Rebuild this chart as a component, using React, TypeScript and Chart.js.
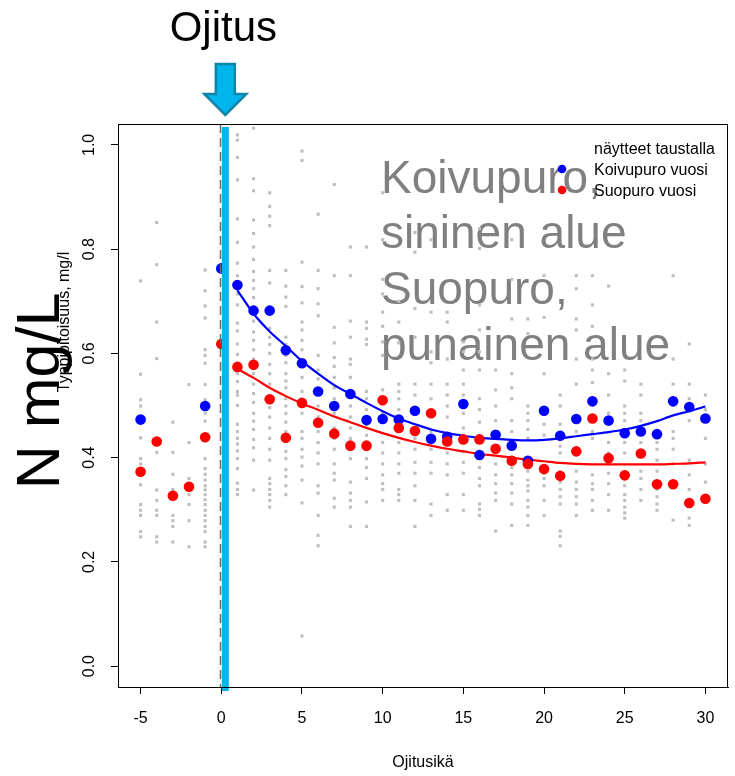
import React, { useEffect, useRef } from 'react';
import { Chart, registerables } from 'chart.js';

Chart.register(...registerables);

const FONT = '"Liberation Sans", Arial, Helvetica, sans-serif';

// Axis ticks
const xTicks = [-5, 0, 5, 10, 15, 20, 25, 30];
const yTicks = [0, 0.2, 0.4, 0.6, 0.8, 1.0];

// Koivupuro yearly means (blue)
const blueX = [-5, -1, 0, 1, 2, 3, 4, 5, 6, 7, 8, 9, 10, 11, 12, 13, 14, 15, 16, 17, 18, 19, 20, 21, 22, 23, 24, 25, 26, 27, 28, 29, 30];
const blueY = [0.473, 0.499, 0.763, 0.731, 0.682, 0.682, 0.606, 0.581, 0.527, 0.499, 0.522, 0.472, 0.474, 0.473, 0.49, 0.436, 0.44, 0.503, 0.405, 0.444, 0.423, 0.394, 0.49, 0.442, 0.474, 0.508, 0.471, 0.447, 0.45, 0.445, 0.508, 0.497, 0.475];

// Suopuro yearly means (red)
const redX = [-5, -4, -3, -2, -1, 0, 1, 2, 3, 4, 5, 6, 7, 8, 9, 10, 11, 12, 13, 14, 15, 16, 17, 18, 19, 20, 21, 22, 23, 24, 25, 26, 27, 28, 29, 30];
const redY = [0.373, 0.431, 0.327, 0.344, 0.439, 0.618, 0.574, 0.578, 0.512, 0.438, 0.505, 0.467, 0.446, 0.423, 0.423, 0.51, 0.457, 0.451, 0.485, 0.431, 0.435, 0.435, 0.417, 0.394, 0.388, 0.378, 0.365, 0.412, 0.475, 0.399, 0.366, 0.408, 0.349, 0.349, 0.313, 0.321];

// Smoothed curves
const smoothX = [1, 2, 3, 4, 5, 6, 7, 8, 9, 10, 11, 12, 13, 14, 15, 16, 17, 18, 19, 20, 21, 22, 23, 24, 25, 26, 27, 28, 29, 30];
const blueSmooth = [0.721, 0.676, 0.642, 0.614, 0.585, 0.561, 0.539, 0.522, 0.505, 0.489, 0.475, 0.464, 0.454, 0.447, 0.442, 0.438, 0.436, 0.434, 0.433, 0.434, 0.437, 0.441, 0.445, 0.449, 0.454, 0.461, 0.47, 0.481, 0.489, 0.498];
const redSmooth = [0.57, 0.553, 0.534, 0.518, 0.504, 0.492, 0.479, 0.468, 0.457, 0.447, 0.438, 0.43, 0.423, 0.417, 0.412, 0.407, 0.404, 0.4, 0.396, 0.393, 0.39, 0.388, 0.387, 0.387, 0.387, 0.387, 0.387, 0.388, 0.389, 0.391];

// Background samples ("näytteet taustalla"), one column per drainage age
const grayColumns: [number, number[]][] = [
  [-5, [0.739, 0.56, 0.511, 0.499, 0.438, 0.398, 0.388, 0.348, 0.31, 0.299, 0.289, 0.258, 0.248]],
  [-4, [0.851, 0.77, 0.66, 0.59, 0.429, 0.41, 0.338, 0.318, 0.299, 0.289, 0.248, 0.238]],
  [-3, [0.468, 0.41, 0.368, 0.339, 0.329, 0.289, 0.279, 0.268, 0.238]],
  [-2, [0.54, 0.429, 0.36, 0.35, 0.329, 0.31, 0.279, 0.229]],
  [-1, [0.76, 0.72, 0.691, 0.668, 0.607, 0.596, 0.581, 0.54, 0.511, 0.485, 0.47, 0.398, 0.379, 0.368, 0.357, 0.346, 0.338, 0.329, 0.319, 0.31, 0.299, 0.289, 0.279, 0.268, 0.258, 0.238, 0.229]],
  [1, [1.019, 1.009, 0.976, 0.933, 0.858, 0.813, 0.773, 0.749, 0.714, 0.693, 0.658, 0.643, 0.618, 0.598, 0.574, 0.561, 0.546, 0.527, 0.52, 0.5, 0.464, 0.45, 0.437, 0.426, 0.413, 0.398, 0.379, 0.351, 0.339, 0.329]],
  [2, [1.032, 0.935, 0.912, 0.856, 0.83, 0.804, 0.78, 0.757, 0.74, 0.724, 0.707, 0.679, 0.662, 0.641, 0.625, 0.607, 0.589, 0.561, 0.541, 0.523, 0.506, 0.485, 0.47, 0.454, 0.435, 0.419, 0.395, 0.338]],
  [3, [0.908, 0.882, 0.863, 0.845, 0.759, 0.735, 0.679, 0.648, 0.631, 0.617, 0.6, 0.579, 0.561, 0.541, 0.513, 0.496, 0.478, 0.457, 0.437, 0.416, 0.395, 0.36, 0.35, 0.339, 0.329, 0.318, 0.305]],
  [4, [0.759, 0.729, 0.708, 0.69, 0.631, 0.617, 0.596, 0.582, 0.561, 0.547, 0.534, 0.513, 0.499, 0.485, 0.468, 0.45, 0.433, 0.412, 0.398, 0.377, 0.364, 0.346, 0.329]],
  [5, [0.988, 0.97, 0.775, 0.728, 0.697, 0.66, 0.645, 0.625, 0.607, 0.554, 0.527, 0.485, 0.45, 0.437, 0.416, 0.401, 0.384, 0.357, 0.313, 0.058]],
  [6, [0.867, 0.759, 0.724, 0.695, 0.672, 0.596, 0.568, 0.551, 0.499, 0.478, 0.45, 0.429, 0.409, 0.388, 0.346, 0.332, 0.289, 0.251, 0.231]],
  [7, [0.924, 0.749, 0.65, 0.62, 0.592, 0.575, 0.554, 0.534, 0.513, 0.485, 0.457, 0.437, 0.416, 0.388, 0.37, 0.357, 0.322, 0.305]],
  [8, [0.804, 0.749, 0.662, 0.631, 0.589, 0.579, 0.554, 0.527, 0.499, 0.478, 0.457, 0.437, 0.398, 0.353, 0.332, 0.318, 0.305, 0.268]],
  [9, [0.804, 0.66, 0.648, 0.627, 0.617, 0.527, 0.513, 0.492, 0.464, 0.443, 0.416, 0.398, 0.381, 0.36, 0.315, 0.268]],
  [10, [0.908, 0.818, 0.742, 0.714, 0.679, 0.652, 0.622, 0.596, 0.53, 0.513, 0.485, 0.429, 0.409, 0.388, 0.367, 0.35, 0.339, 0.318]],
  [11, [0.7, 0.66, 0.62, 0.541, 0.527, 0.513, 0.492, 0.45, 0.429, 0.409, 0.388, 0.37, 0.339, 0.329, 0.318]],
  [12, [0.832, 0.794, 0.686, 0.631, 0.541, 0.52, 0.492, 0.437, 0.416, 0.391, 0.37, 0.346, 0.318, 0.268]],
  [13, [0.818, 0.679, 0.603, 0.582, 0.541, 0.513, 0.45, 0.416, 0.391, 0.37, 0.311, 0.289]],
  [14, [0.679, 0.66, 0.589, 0.541, 0.52, 0.499, 0.478, 0.429, 0.409, 0.388, 0.367, 0.329, 0.299]],
  [15, [0.622, 0.603, 0.568, 0.541, 0.52, 0.485, 0.457, 0.412, 0.391, 0.37, 0.329, 0.299]],
  [16, [0.839, 0.801, 0.693, 0.645, 0.603, 0.568, 0.513, 0.492, 0.468, 0.437, 0.381, 0.36, 0.346, 0.311, 0.301, 0.289]],
  [17, [0.568, 0.53, 0.499, 0.471, 0.45, 0.437, 0.388, 0.367, 0.35, 0.332, 0.318, 0.259]],
  [18, [0.818, 0.742, 0.666, 0.561, 0.534, 0.513, 0.471, 0.45, 0.381, 0.367, 0.35, 0.332, 0.311, 0.27]],
  [19, [0.666, 0.638, 0.499, 0.485, 0.471, 0.454, 0.437, 0.374, 0.357, 0.346, 0.336, 0.318, 0.305, 0.289, 0.27]],
  [20, [0.749, 0.669, 0.561, 0.464, 0.443, 0.36, 0.346, 0.318, 0.289]],
  [21, [0.52, 0.499, 0.464, 0.437, 0.422, 0.409, 0.353, 0.339, 0.325, 0.311, 0.259, 0.249, 0.231]],
  [22, [0.749, 0.724, 0.666, 0.645, 0.589, 0.541, 0.45, 0.374, 0.353, 0.339, 0.325, 0.311, 0.289]],
  [23, [0.749, 0.693, 0.652, 0.589, 0.568, 0.544, 0.45, 0.437, 0.367, 0.35, 0.339, 0.318, 0.299]],
  [24, [0.729, 0.561, 0.52, 0.485, 0.429, 0.409, 0.388, 0.37, 0.35, 0.329, 0.299]],
  [25, [0.568, 0.547, 0.499, 0.485, 0.471, 0.429, 0.409, 0.346, 0.329, 0.318, 0.305, 0.294, 0.284]],
  [26, [0.541, 0.52, 0.485, 0.471, 0.429, 0.374, 0.36, 0.339, 0.318]],
  [27, [0.429, 0.416, 0.395, 0.374, 0.339, 0.325, 0.311, 0.299]],
  [28, [0.749, 0.589, 0.541, 0.45, 0.437, 0.416, 0.388, 0.28]],
  [29, [0.618, 0.541, 0.513, 0.471, 0.395, 0.367, 0.339, 0.318, 0.284, 0.27]],
  [30, [0.52, 0.492, 0.437, 0.388, 0.353, 0.325]],
];

const legendLabels = ['näytteet taustalla', 'Koivupuro vuosi', 'Suopuro vuosi'];
const noteLines = ['Koivupuro,', 'sininen alue', 'Suopuro,', 'punainen alue'];
const drainLabel = 'Ojitus';
const xTitle = 'Ojitusikä';
const yTitle = 'Typpipitoisuus, mg/l';
const bigYLabel = 'N mg/L';
const drainX = 0;
const markerX = 0.25;

const annotations = {
  id: 'annotations',
  beforeDatasetsDraw(chart: any) {
    const { ctx, chartArea: a } = chart;
    ctx.save();
    ctx.fillStyle = '#808080';
    ctx.font = `46px ${FONT}`;
    ctx.textAlign = 'left';
    ctx.textBaseline = 'alphabetic';
    const base = [193, 248, 304, 360];
    noteLines.forEach((t, i) => ctx.fillText(t, a.left + 263, base[i]));
    ctx.restore();
  },
  afterDatasetsDraw(chart: any) {
    const { ctx, chartArea: a, scales } = chart;
    const x = scales.x;
    ctx.save();
    // dashed vertical reference line
    const px0 = Math.round(x.getPixelForValue(drainX)) - 0.5;
    ctx.strokeStyle = '#6a6a6a';
    ctx.lineWidth = 1.5;
    ctx.setLineDash([9, 5]);
    ctx.beginPath();
    ctx.moveTo(px0, a.top);
    ctx.lineTo(px0, a.bottom);
    ctx.stroke();
    ctx.setLineDash([]);
    // thick light-blue marker line
    const pm = x.getPixelForValue(markerX);
    ctx.strokeStyle = '#00B4EC';
    ctx.lineWidth = 7;
    ctx.beginPath();
    ctx.moveTo(pm, a.top + 3);
    ctx.lineTo(pm, a.bottom + 4);
    ctx.stroke();
    ctx.restore();
  },
  afterDraw(chart: any) {
    const { ctx, chartArea: a, scales } = chart;
    const x = scales.x;
    ctx.save();
    // box
    ctx.strokeStyle = '#000';
    ctx.lineWidth = 1;
    ctx.strokeRect(Math.round(a.left) + 0.5, Math.round(a.top) + 0.5, Math.round(a.width) - 1, Math.round(a.height));

    const pm = x.getPixelForValue(markerX);
    // arrow
    ctx.beginPath();
    ctx.moveTo(pm - 9.5, 64);
    ctx.lineTo(pm + 9.5, 64);
    ctx.lineTo(pm + 9.5, 94);
    ctx.lineTo(pm + 21, 94);
    ctx.lineTo(pm, 115);
    ctx.lineTo(pm - 21, 94);
    ctx.lineTo(pm - 9.5, 94);
    ctx.closePath();
    ctx.fillStyle = '#00B4EC';
    ctx.fill();
    ctx.strokeStyle = '#1284A8';
    ctx.lineWidth = 2.5;
    ctx.lineJoin = 'miter';
    ctx.stroke();

    // "Ojitus"
    ctx.fillStyle = '#000';
    ctx.font = `42px ${FONT}`;
    ctx.textAlign = 'center';
    ctx.textBaseline = 'alphabetic';
    ctx.fillText(drainLabel, pm - 2, 41);

    // legend
    ctx.font = `16px ${FONT}`;
    ctx.textAlign = 'left';
    ctx.textBaseline = 'middle';
    const ly = [150, 171, 192];
    legendLabels.forEach((t, i) => ctx.fillText(t, 594, ly[i]));
    ctx.fillStyle = '#0000FF';
    ctx.beginPath();
    ctx.arc(562, 169, 4.3, 0, Math.PI * 2);
    ctx.fill();
    ctx.fillStyle = '#FF0000';
    ctx.beginPath();
    ctx.arc(562, 190, 4.3, 0, Math.PI * 2);
    ctx.fill();

    // axis titles
    ctx.fillStyle = '#000';
    ctx.font = `16px ${FONT}`;
    ctx.textAlign = 'center';
    ctx.textBaseline = 'middle';
    ctx.fillText(xTitle, (a.left + a.right) / 2, 763);

    ctx.save();
    ctx.translate(69, 322);
    ctx.rotate(-Math.PI / 2);
    ctx.textBaseline = 'alphabetic';
    ctx.fillText(yTitle, 0, 0);
    ctx.restore();

    ctx.save();
    ctx.translate(59, 391);
    ctx.rotate(-Math.PI / 2);
    ctx.font = `61px ${FONT}`;
    ctx.textBaseline = 'alphabetic';
    ctx.textAlign = 'center';
    ctx.fillText(bigYLabel, 0, 0);
    ctx.restore();

    ctx.restore();
  },
};

export default function App() {
  const ref = useRef<HTMLCanvasElement>(null);
  useEffect(() => {
    if (!ref.current) return;
    const grayPoints = grayColumns.flatMap(([gx, ys]) => ys.map((gy) => ({ x: gx, y: gy })));
    const chart = new Chart(ref.current, {
      type: 'scatter',
      data: {
        datasets: [
          {
            label: legendLabels[0],
            data: grayPoints,
            pointStyle: 'rect',
            pointRadius: 2.2,
            pointBackgroundColor: '#BEBEBE',
            pointBorderWidth: 0,
            order: 6,
          } as any,
          {
            type: 'line',
            label: 'Koivupuro smooth',
            data: smoothX.map((sx, i) => ({ x: sx, y: blueSmooth[i] })),
            borderColor: '#0000FF',
            borderWidth: 2.2,
            pointRadius: 0,
            fill: false,
            tension: 0.3,
            order: 4,
          } as any,
          {
            type: 'line',
            label: 'Suopuro smooth',
            data: smoothX.map((sx, i) => ({ x: sx, y: redSmooth[i] })),
            borderColor: '#FF0000',
            borderWidth: 2.2,
            pointRadius: 0,
            fill: false,
            tension: 0.3,
            order: 3,
          } as any,
          {
            label: legendLabels[1],
            data: blueX.map((bx, i) => ({ x: bx, y: blueY[i] })),
            pointRadius: 5.3,
            pointBackgroundColor: '#0000FF',
            pointBorderWidth: 0,
            order: 2,
          } as any,
          {
            label: legendLabels[2],
            data: redX.map((rx, i) => ({ x: rx, y: redY[i] })),
            pointRadius: 5.3,
            pointBackgroundColor: '#FF0000',
            pointBorderWidth: 0,
            order: 1,
          } as any,
        ],
      },
      options: {
        animation: false,
        responsive: false,
        devicePixelRatio: 1,
        layout: { padding: { top: 124, right: 7, left: 0, bottom: 0 } },
        plugins: { legend: { display: false }, tooltip: { enabled: false } },
        scales: {
          x: {
            type: 'linear',
            min: -6.4,
            max: 31.4,
            afterBuildTicks: (s: any) => {
              s.ticks = xTicks.map((v) => ({ value: v }));
            },
            afterFit: (s: any) => {
              s.height = 89;
            },
            grid: { drawOnChartArea: false, drawTicks: true, tickLength: 7, color: '#000', lineWidth: 1 },
            border: { display: true, color: '#000', width: 1 },
            ticks: {
              color: '#000',
              font: { family: FONT, size: 16 },
              padding: 15,
              maxRotation: 0,
              autoSkip: false,
              callback: (v: any) => String(v),
            },
          },
          y: {
            type: 'linear',
            min: -0.04,
            max: 1.04,
            afterBuildTicks: (s: any) => {
              s.ticks = yTicks.map((v) => ({ value: v }));
            },
            afterFit: (s: any) => {
              s.width = 118;
            },
            grid: { drawOnChartArea: false, drawTicks: true, tickLength: 7, color: '#000', lineWidth: 1 },
            border: { display: true, color: '#000', width: 1 },
            ticks: {
              color: '#000',
              font: { family: FONT, size: 16 },
              padding: 10,
              minRotation: 90,
              maxRotation: 90,
              crossAlign: 'center',
              autoSkip: false,
              callback: (v: any) => Number(v).toFixed(1),
            },
          },
        },
      } as any,
      plugins: [annotations],
    });
    return () => chart.destroy();
  }, []);
  return (
    <div style={{ position: 'absolute', left: 0, top: 0, width: 735, height: 776, background: '#fff' }}>
      <canvas ref={ref} width={735} height={776} style={{ display: 'block' }} />
    </div>
  );
}
